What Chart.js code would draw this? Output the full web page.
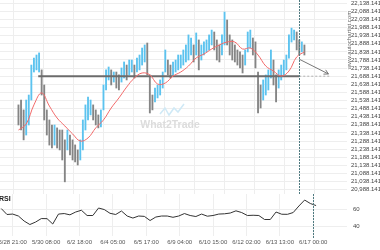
<!DOCTYPE html>
<html>
<head>
<meta charset="utf-8">
<script src="https://cdn.jsdelivr.net/npm/chart.js@4.4.1/dist/chart.umd.min.js"></script>
<style>
  html, body { margin: 0; padding: 0; background: #fff; }
  #wrap { position: relative; width: 380px; height: 250px; overflow: hidden; }
  #top { position: absolute; left: 0; top: 0; width: 380px; height: 194px; }
  #bottom { position: absolute; left: 0; top: 194px; width: 380px; height: 56px; }
</style>
</head>
<body>
<div id="wrap">
  <div id="top"><canvas id="priceChart"></canvas></div>
  <div id="bottom"><canvas id="rsiChart"></canvas></div>
</div>
<script>
// etiquetas del eje de tiempo (una cada 35 horas de mercado)
const timeLabels = ['5/28 21:00', '5/30 08:00', '6/2 18:00', '6/4 05:00', '6/5 17:00',
  '6/9 04:00', '6/10 15:00', '6/12 02:00', '6/13 13:00', '6/17 00:00'];
const labelHours = 35;

const priceTicks = [22138.141, 22088.141, 22038.141, 21988.141, 21938.141, 21888.141,
  21838.141, 21788.141, 21738.141, 21688.141, 21638.141, 21588.141, 21538.141, 21488.141,
  21438.141, 21388.141, 21338.141, 21288.141, 21238.141, 21188.141, 21138.141, 21088.141,
  21038.141, 20988.141];
const rsiTicks = [60, 40];

// barras de 3 horas: maximo y minimo
const firstBarHour = -12;
const barHours = 3;
const barHighs = [21511, 21541, 21480, 21541, 21572, 21757, 21800, 21819, 21832, 21727,
  21634, 21480, 21418, 21387, 21387, 21369, 21356, 21356, 21295, 21356,
  21325, 21295, 21264, 21233, 21295, 21418, 21511, 21560, 21541, 21511,
  21480, 21449, 21480, 21634, 21727, 21745, 21727, 21714, 21714, 21696,
  21739, 21776, 21757, 21788, 21788, 21757, 21800, 21819, 21862, 21881,
  21893, 21696, 21572, 21615, 21634, 21665, 21714, 21850, 21788, 21757,
  21776, 21788, 21819, 21819, 21850, 21881, 21943, 21924, 21881, 21955,
  21912, 21881, 21900, 21912, 21943, 21973, 21961, 21912, 21881, 21943,
  22084, 22035, 21943, 21912, 21881, 21850, 21838, 21819, 21850, 21961,
  21973, 21924, 21900, 21714, 21634, 21665, 21696, 21727, 21850, 21788,
  21696, 21727, 21757, 21788, 21819, 21943, 21985, 21973, 21961, 21912,
  21900, 21881];
const barLows = [21387, 21356, 21295, 21325, 21387, 21541, 21714, 21727, 21714, 21572,
  21418, 21325, 21263, 21245, 21263, 21245, 21233, 21171, 21036, 21233,
  21202, 21171, 21159, 21140, 21171, 21233, 21356, 21418, 21449, 21418,
  21387, 21369, 21375, 21480, 21603, 21665, 21634, 21652, 21615, 21603,
  21652, 21677, 21665, 21696, 21714, 21677, 21714, 21727, 21757, 21776,
  21696, 21461, 21480, 21529, 21554, 21572, 21615, 21714, 21696, 21677,
  21696, 21714, 21727, 21739, 21757, 21776, 21788, 21819, 21776, 21819,
  21727, 21788, 21819, 21838, 21850, 21881, 21850, 21788, 21776, 21819,
  21881, 21881, 21819, 21788, 21776, 21757, 21739, 21708, 21757, 21838,
  21862, 21819, 21739, 21461, 21492, 21541, 21572, 21603, 21677, 21634,
  21529, 21615, 21665, 21696, 21727, 21800, 21899, 21912, 21850, 21819,
  21838, 21819];

// media movil, una muestra cada 3 barras
const maStep = 3;
const maValues = [21356, 21393, 21511, 21585, 21504, 21430, 21381, 21332, 21288, 21307,
  21369, 21418, 21492, 21554, 21621, 21677, 21708, 21696, 21640, 21646,
  21689, 21714, 21751, 21801, 21825, 21856, 21881, 21899, 21899, 21856,
  21862, 21819, 21751, 21720, 21689, 21720, 21807, 21838];

// RSI, una muestra cada 2 barras
const rsiStep = 2;
const rsiValues = [61.4, 54.4, 54.9, 52.6, 46.7, 42.6, 45.5, 49.6, 49.5, 43.2,
  54.9, 55.5, 54, 57.3, 59.4, 53.2, 53.2, 62, 60.2, 55.8,
  54.4, 58.5, 52.6, 50.2, 52.6, 52.2, 47.3, 51.4, 52.6, 52.6,
  51.1, 52.6, 55.5, 53.2, 52, 54.9, 52.4, 53.2, 54.9, 55.2,
  56.1, 58.7, 56.7, 53.2, 53.5, 53.2, 48.5, 48.5, 57.3, 54.7,
  54.6, 56.7, 64.4, 71.4, 67.3, 64.9];

// nivel de soporte y proyeccion
const levelPrice = 21688.141;
const levelStartHour = 11;
const signalHour = 315;
const arrowStartPrice = 21793;
const arrowEndPrice = 21702;
const arrowEndHour = 349;

const xMin = -13.3, xMax = 350.4;
const upColor = '#5cc3ef';
const downColor = '#858585';
const gridColor = '#eeeeee';
const labelFont = { family: 'Liberation Sans', size: 6 };

function formatPrice(v) {
  return v.toLocaleString('en-US', { minimumFractionDigits: 3, maximumFractionDigits: 3 });
}

function xTicks(scale) {
  scale.ticks = timeLabels.map((_, i) => ({ value: i * labelHours }));
}

function drawSignalLine(chart, bottom) {
  const ctx = chart.ctx;
  const x = Math.round(chart.scales.x.getPixelForValue(signalHour)) + 0.5;
  ctx.save();
  ctx.strokeStyle = '#4f7a80';
  ctx.lineWidth = 1;
  ctx.setLineDash([2, 1]);
  ctx.beginPath();
  ctx.moveTo(x, 0);
  ctx.lineTo(x, bottom);
  ctx.stroke();
  ctx.restore();
}

const priceOverlay = {
  id: 'priceOverlay',
  beforeDatasetsDraw(chart) {
    const ctx = chart.ctx;
    ctx.save();
    // marca de agua
    ctx.strokeStyle = '#cfe9f6';
    ctx.lineWidth = 1.5;
    ctx.beginPath();
    ctx.moveTo(160, 114); ctx.lineTo(165, 108); ctx.lineTo(169, 115);
    ctx.lineTo(174, 108); ctx.lineTo(178, 112); ctx.lineTo(184, 104);
    ctx.stroke();
    ctx.fillStyle = '#dcdcdc';
    ctx.font = 'bold 10.5px "Liberation Sans"';
    ctx.textAlign = 'center';
    ctx.textBaseline = 'middle';
    ctx.fillText('What2Trade', 170, 125);
    ctx.restore();
  },
  afterDatasetsDraw(chart) {
    const ctx = chart.ctx;
    const sx = chart.scales.x, sy = chart.scales.y;
    drawSignalLine(chart, chart.height);
    // punta de flecha
    const x0 = sx.getPixelForValue(signalHour), y0 = sy.getPixelForValue(arrowStartPrice);
    const x1 = sx.getPixelForValue(arrowEndHour), y1 = sy.getPixelForValue(arrowEndPrice);
    const a = Math.atan2(y1 - y0, x1 - x0);
    ctx.save();
    ctx.strokeStyle = '#777';
    ctx.lineWidth = 1;
    ctx.beginPath();
    ctx.moveTo(x1 - 5 * Math.cos(a - 0.5), y1 - 5 * Math.sin(a - 0.5));
    ctx.lineTo(x1, y1);
    ctx.lineTo(x1 - 5 * Math.cos(a + 0.5), y1 - 5 * Math.sin(a + 0.5));
    ctx.stroke();
    // texto vertical
    ctx.translate(349, 40);
    ctx.rotate(-Math.PI / 2);
    ctx.fillStyle = '#666';
    ctx.font = '6px "Liberation Sans"';
    ctx.textAlign = 'center';
    ctx.textBaseline = 'middle';
    ctx.fillText('www.autochartist.com', 0, 0);
    ctx.restore();
  }
};

const rsiOverlay = {
  id: 'rsiOverlay',
  afterDatasetsDraw(chart) {
    const ctx = chart.ctx;
    drawSignalLine(chart, chart.chartArea.bottom + 2);
    ctx.save();
    ctx.fillStyle = '#222';
    ctx.font = 'bold 7px "Liberation Sans"';
    ctx.textBaseline = 'middle';
    ctx.fillText('RSI', -1, 5);
    ctx.restore();
  }
};

Chart.defaults.animation = false;
Chart.defaults.responsive = true;
Chart.defaults.maintainAspectRatio = false;

new Chart(document.getElementById('priceChart'), {
  type: 'bar',
  data: {
    datasets: [
      {
        type: 'line',
        label: 'MA',
        data: maValues.map((v, k) => ({ x: firstBarHour + k * maStep * barHours, y: v })),
        borderColor: '#f26a6a',
        borderWidth: 1,
        pointRadius: 0,
        tension: 0.4,
        order: 0
      },
      {
        type: 'line',
        label: 'Nivel',
        data: [{ x: levelStartHour, y: levelPrice }, { x: signalHour, y: levelPrice }],
        borderColor: '#6b6b6b',
        borderWidth: 2,
        pointRadius: 0,
        order: 1
      },
      {
        type: 'line',
        label: 'Proyeccion',
        data: [{ x: signalHour, y: levelPrice }, { x: xMax, y: levelPrice }],
        borderColor: '#b0b0b0',
        borderWidth: 1,
        borderDash: [2, 2],
        pointRadius: 0,
        order: 1
      },
      {
        type: 'line',
        label: 'Flecha',
        data: [{ x: signalHour, y: arrowStartPrice }, { x: arrowEndHour, y: arrowEndPrice }],
        borderColor: '#777',
        borderWidth: 1,
        pointRadius: 0,
        order: 1
      },
      {
        type: 'bar',
        label: 'Precio',
        data: barLows.map((lo, i) => ({ x: firstBarHour + i * barHours, y: [lo, barHighs[i]] })),
        backgroundColor: ctx => {
          const i = ctx.dataIndex;
          if (i === 0) return downColor;
          const mid = (barLows[i] + barHighs[i]) / 2;
          const prev = (barLows[i - 1] + barHighs[i - 1]) / 2;
          return mid >= prev ? upColor : downColor;
        },
        barThickness: 1.2,
        order: 2
      }
    ]
  },
  options: {
    layout: { padding: 0 },
    plugins: { legend: { display: false }, tooltip: { enabled: false } },
    scales: {
      x: {
        type: 'linear',
        min: xMin,
        max: xMax,
        grid: { color: gridColor, drawTicks: false },
        border: { display: false },
        ticks: { display: false },
        afterBuildTicks: xTicks,
        afterFit: s => { s.height = 0; s.paddingLeft = 0; s.paddingRight = 0; }
      },
      y: {
        position: 'right',
        min: 20961.0,
        max: 22158.5,
        grid: { color: gridColor, drawTicks: false },
        border: { display: false },
        afterBuildTicks: s => { s.ticks = priceTicks.map(v => ({ value: v })); },
        ticks: { padding: 4, color: '#444', font: labelFont, autoSkip: false, callback: v => formatPrice(v) },
        afterFit: s => { s.width = 33; s.paddingTop = 0; s.paddingBottom = 0; }
      }
    }
  },
  plugins: [priceOverlay]
});

new Chart(document.getElementById('rsiChart'), {
  type: 'line',
  data: {
    datasets: [{
      label: 'RSI',
      data: rsiValues.map((v, j) => ({ x: firstBarHour + j * rsiStep * barHours, y: v })),
      borderColor: '#333',
      borderWidth: 1,
      pointRadius: 0,
      tension: 0
    }]
  },
  options: {
    layout: { padding: 0 },
    plugins: { legend: { display: false }, tooltip: { enabled: false } },
    scales: {
      x: {
        type: 'linear',
        min: xMin,
        max: xMax,
        grid: { color: gridColor, drawTicks: false },
        border: { display: false },
        afterBuildTicks: xTicks,
        ticks: {
          padding: 3,
          color: '#555',
          font: labelFont,
          maxRotation: 0,
          autoSkip: false,
          callback: (v, i) => timeLabels[i]
        },
        afterFit: s => { s.height = 14; s.paddingLeft = 0; s.paddingRight = 0; }
      },
      y: {
        position: 'right',
        min: 29.1,
        max: 78.5,
        grid: { color: gridColor, drawTicks: false },
        border: { display: false },
        afterBuildTicks: s => { s.ticks = rsiTicks.map(v => ({ value: v })); },
        ticks: { padding: 6, color: '#444', font: labelFont },
        afterFit: s => { s.width = 33; s.paddingTop = 0; s.paddingBottom = 0; }
      }
    }
  },
  plugins: [rsiOverlay]
});
</script>
</body>
</html>
